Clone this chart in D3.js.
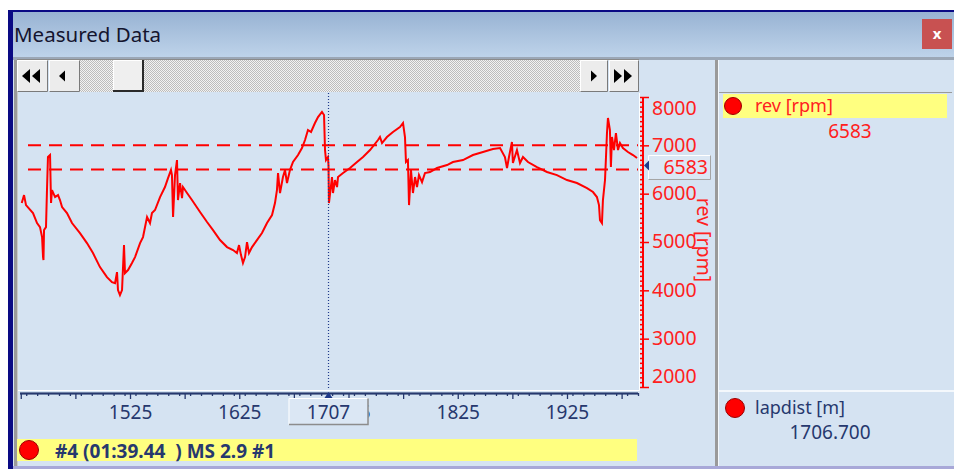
<!DOCTYPE html>
<html>
<head>
<meta charset="utf-8">
<script src="https://cdn.jsdelivr.net/npm/d3@7"></script>
<style>
  html, body { margin: 0; padding: 0; background: #ffffff; }
  svg { display: block; }
  text { font-family: "Noto Sans", "Open Sans", "DejaVu Sans", sans-serif; }
</style>
</head>
<body>
<svg id="chart" width="954" height="471"></svg>
<script>
// Lap distance [m] of each logged sample
const lapdist = [
  1425.9,1428.0,1429.8,1436.2,1439.9,1442.6,1444.5,1445.4,1445.8,1446.3,
  1448.1,1449.0,1449.9,1451.8,1452.7,1453.6,1456.4,1459.1,1460.9,1462.8,
  1467.3,1471.9,1479.2,1485.6,1491.1,1497.5,1503.9,1508.5,1511.3,1513.1,
  1514.0,1515.8,1517.7,1519.5,1520.4,1523.2,1526.8,1529.6,1534.2,1536.9,
  1540.6,1543.3,1545.1,1547.9,1552.5,1557.0,1559.8,1562.5,1563.4,1564.4,
  1566.2,1568.0,1568.9,1570.8,1572.6,1573.5,1577.2,1581.7,1589.1,1595.5,
  1601.0,1607.4,1613.8,1619.3,1622.9,1624.8,1626.6,1628.4,1630.3,1632.1,
  1633.9,1636.7,1641.2,1645.8,1650.4,1655.0,1657.7,1659.5,1660.5,1662.3,
  1665.0,1666.9,1668.7,1671.4,1674.2,1678.8,1682.4,1685.2,1687.9,1690.7,
  1694.3,1697.1,1700.7,1702.6,1703.5,1704.4,1706.2,1706.7,1707.1,1709.9,
  1710.8,1712.6,1714.5,1715.4,1720.0,1726.4,1732.8,1738.3,1744.7,1752.0,
  1753.8,1755.7,1760.2,1765.7,1772.1,1774.9,1776.7,1777.6,1779.4,1780.4,
  1782.2,1784.0,1785.9,1787.7,1789.5,1792.3,1795.0,1799.6,1806.0,1815.2,
  1820.6,1829.8,1838.9,1848.1,1857.2,1863.7,1868.2,1870.1,1871.9,1874.6,
  1875.5,1879.2,1882.0,1884.7,1889.3,1897.5,1906.7,1915.8,1925.0,1934.1,
  1943.3,1948.8,1952.4,1954.3,1955.2,1957.0,1957.9,1959.8,1960.7,1961.6,
  1962.5,1964.3,1965.2,1966.2,1968.0,1969.8,1971.7,1973.5,1976.2,1980.8,
  1985.4,1989.1
];

// Engine speed [rpm] at each sample
const rev = [
  5806,5971,5764,5599,5392,5309,5102,4688,4626,5247,
  5309,6075,6758,6799,5806,6075,5930,5971,5868,5723,
  5599,5392,5185,4978,4771,4481,4274,4170,4150,4378,
  4005,3901,4005,4936,4357,4419,4564,4688,4978,5102,
  5516,5392,5599,5661,5930,6137,6323,6489,6385,5516,
  6385,6696,5868,6220,5909,6137,6013,5868,5620,5413,
  5247,5040,4895,4833,4771,4936,4729,4564,4688,4998,
  4771,4895,5040,5185,5392,5557,5806,6075,6427,6013,
  6344,6489,6220,6489,6655,6799,6944,7110,7317,7276,
  7462,7586,7690,7627,6903,6696,6758,6583,5806,6344,
  6013,6282,6137,6344,6427,6530,6655,6758,6903,7110,
  7172,7048,7172,7276,7379,7462,7172,6655,6696,5764,
  6489,6013,6344,6137,6385,6240,6427,6448,6530,6592,
  6655,6696,6799,6862,6924,6944,6758,6530,6758,7069,
  6634,6903,6634,6758,6655,6551,6448,6385,6282,6220,
  6116,6034,5930,5764,5454,5392,5868,6282,6758,7255,
  7565,7317,6551,7172,6903,7255,6903,7048,6944,6862,
  6799,6737
];

const distTickLabels = [1525, 1625, 1725, 1825, 1925];
const revTickLabels = [2000, 3000, 4000, 5000, 6000, 7000, 8000];
const revLimits = [7000, 6500];
const cursorDist = 1706.7;
const cursorRev = 6583;
const viewDist = [1424.3, 1990];
const viewRev = [2000, 8000];
const channelNames = ["rev [rpm]", "lapdist [m]"];
const lapLabel = "#4 (01:39.44  ) MS 2.9 #1";
const windowTitle = "Measured Data";

// ---------- styling ----------
const panelBg = "#d5e3f2";
const navy = "#26386e";
const red = "#ff0000";
const yellow = "#ffff80";

const svg = d3.select("#chart");
const defs = svg.append("defs");

const grad = defs.append("linearGradient").attr("id", "titleGrad")
  .attr("x1", 0).attr("y1", 0).attr("x2", 0).attr("y2", 1);
grad.append("stop").attr("offset", "0%").attr("stop-color", "#98b3d3");
grad.append("stop").attr("offset", "100%").attr("stop-color", "#bed3ea");

const hatch = defs.append("pattern").attr("id", "hatch")
  .attr("width", 2).attr("height", 2).attr("patternUnits", "userSpaceOnUse");
hatch.append("rect").attr("width", 2).attr("height", 2).attr("fill", "#f2f2f2");
hatch.append("rect").attr("width", 1).attr("height", 1).attr("fill", "#bcbcbc");
hatch.append("rect").attr("x", 1).attr("y", 1).attr("width", 1).attr("height", 1).attr("fill", "#bcbcbc");

defs.append("clipPath").attr("id", "plotClip")
  .append("rect").attr("x", 20).attr("y", 93).attr("width", 619).attr("height", 297);

// ---------- window frame ----------
svg.append("rect").attr("x", 0).attr("y", 0).attr("width", 954).attr("height", 471).attr("fill", "#ffffff");
svg.append("rect").attr("x", 8).attr("y", 10).attr("width", 946).attr("height", 459).attr("fill", "#0a0a84");
svg.append("rect").attr("x", 13).attr("y", 12).attr("width", 941).attr("height", 45).attr("fill", "url(#titleGrad)");
svg.append("rect").attr("x", 13).attr("y", 57).attr("width", 941).attr("height", 3).attr("fill", "#9ba7b6");
svg.append("rect").attr("x", 13).attr("y", 60).attr("width", 941).attr("height", 406).attr("fill", panelBg);
svg.append("rect").attr("x", 13).attr("y", 466).attr("width", 941).attr("height", 3).attr("fill", "#a8a8d8");
svg.append("rect").attr("x", 13).attr("y", 469).attr("width", 941).attr("height", 2).attr("fill", "#ffffff");

svg.append("text").attr("x", 14).attr("y", 42)
  .attr("font-size", 20.5).attr("fill", "#14142e").text(windowTitle);

// close button
svg.append("rect").attr("x", 922).attr("y", 19).attr("width", 30).attr("height", 30).attr("fill", "#c85151");
svg.append("text").attr("x", 937).attr("y", 34).attr("dy", "0.35em").attr("text-anchor", "middle")
  .attr("font-size", 15).attr("font-weight", "bold").attr("fill", "#ffffff").text("x");

// left edge of the graph pane
svg.append("rect").attr("x", 14).attr("y", 60).attr("width", 4).attr("height", 406).attr("fill", "#9a9a9a");
svg.append("rect").attr("x", 17).attr("y", 60).attr("width", 1).attr("height", 406).attr("fill", "#c8c8c8");

// divider between graph and channel list
svg.append("rect").attr("x", 715).attr("y", 60).attr("width", 3).attr("height", 406).attr("fill", "#9a9a9a");
svg.append("rect").attr("x", 718).attr("y", 60).attr("width", 1).attr("height", 406).attr("fill", "#f4f8fc");

// ---------- scroll bar ----------
const sb = svg.append("g");
sb.append("rect").attr("x", 17).attr("y", 59).attr("width", 622).attr("height", 1).attr("fill", "#8a8a8a");
sb.append("rect").attr("x", 80).attr("y", 60).attr("width", 500).attr("height", 32).attr("fill", "url(#hatch)");

function button(x0, w) {
  sb.append("rect").attr("x", x0).attr("y", 60).attr("width", w).attr("height", 32).attr("fill", "#ececec");
  sb.append("path").attr("d", `M${x0 + 0.5},91.5V60.5H${x0 + w - 0.5}`).attr("fill", "none").attr("stroke", "#ffffff");
  sb.append("path").attr("d", `M${x0 + 0.5},91.5H${x0 + w - 0.5}V60.5`).attr("fill", "none").attr("stroke", "#7a7a7a");
}
function tri(cx, cy, dir, w = 8, h = 14) {
  // dir -1 points left, +1 points right
  const tip = cx + dir * w / 2, base = cx - dir * w / 2;
  sb.append("path").attr("d", `M${tip},${cy}L${base},${cy - h / 2}L${base},${cy + h / 2}Z`).attr("fill", "#000000");
}
button(17, 31); tri(26, 76, -1); tri(36, 76, -1);
button(49, 31); tri(62, 76, -1, 6, 11);
button(580, 28); tri(594, 76, 1, 6, 11);
button(609, 30); tri(618, 76, 1); tri(628, 76, 1);
// thumb
sb.append("rect").attr("x", 113).attr("y", 60).attr("width", 30).attr("height", 32).attr("fill", "#efefef");
sb.append("path").attr("d", "M113.5,90.5V60.5H142.5").attr("fill", "none").attr("stroke", "#ffffff");
sb.append("path").attr("d", "M113,91H143V60").attr("fill", "none").attr("stroke", "#2a2a2a").attr("stroke-width", 2);

// ---------- scales ----------
const x = d3.scaleLinear().domain(viewDist).range([20, 638]);
const y = d3.scaleLinear().domain(viewRev).range([387, 97]);

// plot frame highlight
svg.append("path").attr("d", "M18,390.5H639.5V93").attr("fill", "none").attr("stroke", "#ffffff");

// limit lines
svg.append("g").selectAll("line").data(revLimits).join("line")
  .attr("x1", 20).attr("x2", 638)
  .attr("y1", d => y(d)).attr("y2", d => y(d))
  .attr("stroke", red).attr("stroke-width", 2)
  .attr("stroke-dasharray", "13,8").attr("stroke-dashoffset", 13);

// rev trace
const pts = lapdist.map((d, i) => [d, rev[i]]);
svg.append("path").datum(pts)
  .attr("clip-path", "url(#plotClip)")
  .attr("fill", "none").attr("stroke", red).attr("stroke-width", 2)
  .attr("stroke-linejoin", "miter")
  .attr("d", d3.line().x(d => x(d[0])).y(d => y(d[1])));

// cursor
const cx = x(cursorDist);
svg.append("line").attr("x1", cx).attr("x2", cx).attr("y1", 93).attr("y2", 390)
  .attr("stroke", "#1f3a8a").attr("stroke-width", 1.2).attr("stroke-dasharray", "1,2");

// ---------- distance axis ----------
const xAxisG = svg.append("g").attr("transform", "translate(0,393)");
const minorDist = d3.range(1430, 1991, 10);
const majorDist = d3.range(1425, 1991, 50);
xAxisG.append("g").call(d3.axisBottom(x).tickValues(minorDist).tickSize(3).tickFormat(""));
xAxisG.append("g").call(d3.axisBottom(x).tickValues(majorDist).tickSize(6).tickFormat(""));
const xLab = xAxisG.append("g").call(d3.axisBottom(x).tickValues(distTickLabels).tickSize(0).tickFormat(d3.format("d")));
xAxisG.selectAll(".domain").attr("stroke", navy).attr("stroke-width", 1.5).attr("d", "M20,0.5H638");
xAxisG.selectAll(".tick line").attr("stroke", navy).attr("stroke-width", 1.3);
xLab.attr("font-family", null);
xLab.selectAll("text").attr("y", 19.5).attr("dy", "0.35em")
  .attr("font-size", 19).attr("fill", navy);

// cursor marker on the distance axis
svg.append("path").attr("d", `M${cx},392L${cx + 4},398L${cx - 4},398Z`).attr("fill", "#1f3a8a");

// cursor readout box (sits over the neighbouring distance label)
svg.append("rect").attr("x", cx - 40).attr("y", 398).attr("width", 80).attr("height", 27).attr("fill", "#dbe7f4");
svg.append("path").attr("d", `M${cx - 39.5},424.5V398.5H${cx + 39.5}`).attr("fill", "none").attr("stroke", "#ffffff");
svg.append("path").attr("d", `M${cx - 39.5},424.5H${cx + 39.5}V398.5`).attr("fill", "none").attr("stroke", "#8c8c8c").attr("stroke-width", 1.5);
svg.append("text").attr("x", cx).attr("y", 412).attr("dy", "0.35em").attr("text-anchor", "middle")
  .attr("font-size", 19).attr("fill", navy).text(Math.round(cursorDist));

// ---------- rev axis ----------
const yAxisG = svg.append("g").attr("transform", "translate(643,0)");
const minorRev = d3.range(2000, 8001, 100);
yAxisG.append("g").call(d3.axisLeft(y).tickValues(minorRev).tickSize(3).tickFormat(""));
yAxisG.append("g").call(d3.axisRight(y).tickValues(revTickLabels).tickSize(6).tickFormat(""));
const yLab = yAxisG.append("g").call(d3.axisRight(y).tickValues(revTickLabels).tickSize(0).tickPadding(9).tickFormat(d3.format("d")));
yAxisG.selectAll(".domain").attr("stroke", red).attr("stroke-width", 2).attr("d", "M0,97V387");
yAxisG.selectAll(".tick line").attr("stroke", red).attr("stroke-width", 1.5);
yLab.attr("font-family", null);
// end labels are kept inside the axis span
yLab.selectAll(".tick").attr("transform", d => `translate(0,${Math.max(109, Math.min(377, y(d)))})`);
yLab.selectAll("text").attr("font-size", 19.5).attr("fill", "#ff2020");

svg.append("text").attr("transform", "translate(697,240) rotate(90)")
  .attr("text-anchor", "middle").attr("font-size", 19.5).attr("fill", "#ff2020").text(channelNames[0]);

// current value at the rev axis
const cy = y(cursorRev);
svg.append("rect").attr("x", 648).attr("y", cy - 10.5).attr("width", 63).attr("height", 25).attr("fill", "#dbe7f4");
svg.append("path").attr("d", `M648.5,${cy + 14}V${cy - 10}H710.5`).attr("fill", "none").attr("stroke", "#ffffff");
svg.append("path").attr("d", `M648.5,${cy + 14}H710.5V${cy - 10}`).attr("fill", "none").attr("stroke", "#a4a4a4");
svg.append("text").attr("x", 708).attr("y", cy + 2).attr("dy", "0.35em").attr("text-anchor", "end")
  .attr("font-size", 19.5).attr("fill", "#ff2020").text(cursorRev);
svg.append("path").attr("d", `M644,${cy}L649,${cy - 5}L649,${cy + 5}Z`).attr("fill", "#1f3a8a");

// ---------- lap bar ----------
svg.append("rect").attr("x", 17).attr("y", 439).attr("width", 620).attr("height", 22).attr("fill", yellow);
svg.append("circle").attr("cx", 29).attr("cy", 450).attr("r", 9.5).attr("fill", red).attr("stroke", "#9a0000");
svg.append("text").attr("x", 55).attr("y", 451).attr("dy", "0.35em").attr("xml:space", "preserve")
  .style("white-space", "pre")
  .attr("font-size", 19).attr("font-weight", "bold").attr("fill", navy).text(lapLabel);

// ---------- channel list ----------
svg.append("rect").attr("x", 719).attr("y", 92).attr("width", 233).attr("height", 1).attr("fill", "#9a9a9a");
svg.append("rect").attr("x", 723).attr("y", 94).attr("width", 224).attr("height", 24).attr("fill", yellow);
svg.append("circle").attr("cx", 733).attr("cy", 106).attr("r", 8.5).attr("fill", red).attr("stroke", "#9a0000");
svg.append("text").attr("x", 755).attr("y", 106).attr("dy", "0.35em")
  .attr("font-size", 18).attr("fill", "#ff2020").text(channelNames[0]);
svg.append("text").attr("x", 850).attr("y", 131).attr("dy", "0.35em").attr("text-anchor", "middle")
  .attr("font-size", 19).attr("fill", "#ff2020").text(cursorRev);

svg.append("rect").attr("x", 719).attr("y", 390).attr("width", 235).attr("height", 2).attr("fill", "#f4f8fc");
svg.append("circle").attr("cx", 735).attr("cy", 408).attr("r", 9.5).attr("fill", red).attr("stroke", "#9a0000");
svg.append("text").attr("x", 755).attr("y", 408).attr("dy", "0.35em")
  .attr("font-size", 18).attr("fill", navy).text(channelNames[1]);
svg.append("text").attr("x", 830).attr("y", 432).attr("dy", "0.35em").attr("text-anchor", "middle")
  .attr("font-size", 19).attr("fill", navy).text(cursorDist.toFixed(3));
</script>
</body>
</html>
